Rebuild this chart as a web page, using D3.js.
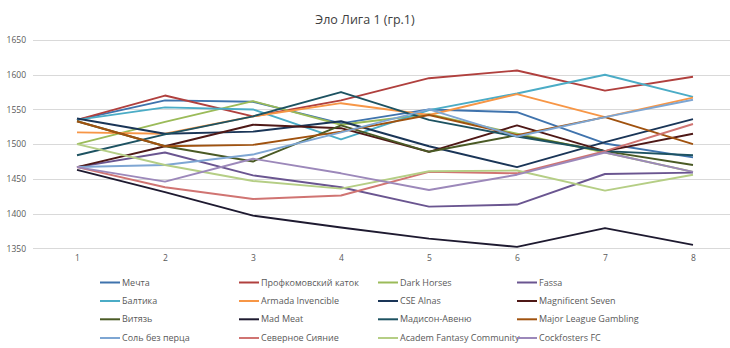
<!DOCTYPE html>
<html><head><meta charset="utf-8">
<script src="https://cdn.jsdelivr.net/npm/d3@7"></script>
<style>html,body{margin:0;padding:0;background:#fff;}svg{display:block;}</style>
</head><body>
<svg id="c" width="730" height="348"></svg>
<script>
const title = "Эло Лига 1 (гр.1)";
const rounds = ["1","2","3","4","5","6","7","8"];
const yTicks = [1350,1400,1450,1500,1550,1600,1650];
const names = ["Мечта","Профкомовский каток","Dark Horses","Fassa","Балтика","Armada Invencible","CSE Alnas","Magnificent Seven","Витязь","Mad Meat","Мадисон-Авеню","Major League Gambling","Соль без перца","Северное Сияние","Academ Fantasy Community","Cockfosters FC"];
const colors = ["#3F73AD","#B0403E","#9BBB59","#6A5590","#4BACC6","#F79646","#1A3557","#4E1816","#4A5A25","#1E1A30","#1D5261","#A0520F","#7EA6D3","#D07472","#B5CE85","#9C88BA"];
const mechta      = [1535,1563,1561,1530,1550,1546,1501,1481];
const profkom     = [1535,1570,1540,1563,1595,1606,1577,1597];
const darkHorses  = [1500,1532,1562,1528,1543,1515,1488,1460];
const fassa       = [1467,1488,1455,1438,1410,1413,1457,1459];
const baltika     = [1535,1553,1550,1507,1549,1573,1600,1568];
const armada      = [1517,1515,1540,1559,1542,1572,1539,1567];
const cseAlnas    = [1537,1515,1518,1533,1497,1467,1503,1536];
const magSeven    = [1467,1497,1528,1523,1489,1527,1490,1515];
const vityaz      = [1533,1497,1475,1527,1489,1513,1490,1470];
const madMeat     = [1463,1431,1397,1380,1364,1352,1379,1355];
const madison     = [1484,1514,1540,1575,1535,1511,1490,1484];
const mlg         = [1533,1497,1499,1518,1542,1513,1539,1500];
const sol         = [1467,1470,1485,1517,1550,1511,1539,1564];
const severnoe    = [1467,1438,1421,1426,1460,1458,1490,1529];
const academ      = [1500,1470,1447,1436,1461,1462,1433,1456];
const cockfosters = [1467,1446,1479,1458,1434,1456,1488,1460];
const seriesValues = [mechta,profkom,darkHorses,fassa,baltika,armada,cseAlnas,magSeven,vityaz,madMeat,madison,mlg,sol,severnoe,academ,cockfosters];

const svg = d3.select("#c");
const font = "'Open Sans', 'Noto Sans', sans-serif";
const x = d3.scalePoint().domain(rounds).range([33, 737]).padding(0.5);
const y = d3.scaleLinear().domain([1350,1650]).range([248.3, 40]);

// gridlines
svg.append("g").selectAll("line").data(yTicks).join("line")
  .attr("x1", 33).attr("x2", 737)
  .attr("y1", d => Math.round(y(d)) + 0.5).attr("y2", d => Math.round(y(d)) + 0.5)
  .attr("stroke", "#d9d9d9").attr("stroke-width", 1);

// y axis labels
const ya = svg.append("g").attr("transform", "translate(26,0)")
  .call(d3.axisLeft(y).tickValues(yTicks).tickSize(0).tickPadding(0).tickFormat(d3.format("d")));
ya.select(".domain").remove();
ya.selectAll("text").attr("font-family", font).attr("font-size", "8.5px").attr("fill", "#595959");

// x axis labels
const xa = svg.append("g").attr("transform", "translate(0,255)")
  .call(d3.axisBottom(x).tickSize(0).tickPadding(0));
xa.select(".domain").remove();
xa.selectAll("text").attr("font-family", font).attr("font-size", "8.5px").attr("fill", "#595959");

// lines
const line = d3.line().x((d,i) => x(rounds[i])).y(d => y(d));
svg.append("g").selectAll("path").data(seriesValues).join("path")
  .attr("d", d => line(d)).attr("fill", "none")
  .attr("stroke", (d,i) => colors[i]).attr("stroke-width", 1.9)
  .attr("stroke-linejoin", "round");

// title
svg.append("text").attr("x", 365).attr("y", 24).attr("text-anchor", "middle")
  .attr("font-family", font).attr("font-size", "12.5px").attr("fill", "#404040").text(title);

// legend
const colX = [100, 239, 378, 517];
const rowY = [282.5, 301, 319.3, 338];
const lg = svg.append("g").selectAll("g").data(names).join("g")
  .attr("transform", (d,i) => `translate(${colX[i%4]},${rowY[Math.floor(i/4)]})`);
lg.append("line").attr("x1", 0).attr("x2", 20).attr("y1", 0).attr("y2", 0)
  .attr("stroke", (d,i) => colors[i]).attr("stroke-width", 2);
lg.append("text").attr("x", 22).attr("y", 0).attr("dy", "0.35em")
  .attr("font-family", font).attr("font-size", "9px").attr("fill", "#595959").text(d => d);
</script>
</body></html>
